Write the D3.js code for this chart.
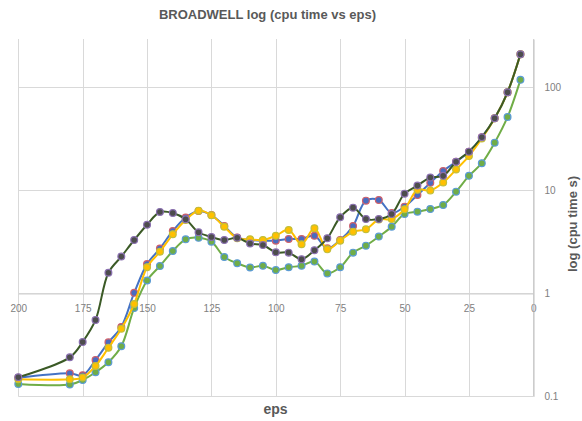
<!DOCTYPE html>
<html lang="en">
<head>
<meta charset="UTF-8">
<title>BROADWELL log (cpu time vs eps)</title>
<script src="https://cdn.jsdelivr.net/npm/d3@7/dist/d3.min.js"></script>
<style>
    body { margin: 0; background: #fff; }
    svg { display: block; font-family: "Liberation Sans", Arial, sans-serif; }
</style>
</head>
<body>
<svg width="582" height="421"></svg>
<script>
// eps values (x) and cpu time in seconds for the four runs
var eps = [200, 180, 175, 170, 165, 160, 155, 150, 145, 140, 135, 130, 125, 120, 115, 110, 105, 100,
           95, 90, 85, 80, 75, 70, 65, 60, 55, 50, 45, 40, 35, 30, 25, 20, 15, 10, 5];

var timeBlue = [0.151, 0.167, 0.160, 0.225, 0.334, 0.471, 1.01, 1.92, 2.72, 4.03, 5.44, 6.30, 5.75, 4.50,
                3.48, 3.29, 3.24, 3.24, 3.37, 3.37, 3.62, 2.73, 3.29, 4.50, 7.93, 8.05, 6.02, 6.93, 9.0,
                11.8, 15.4, 18.9, 23.7, 32.7, 50.0, 89.4, 209];
var timeYellow = [0.146, 0.146, 0.152, 0.197, 0.296, 0.453, 0.787, 1.79, 2.53, 3.74, 5.15, 6.34, 5.72, 4.43,
                  3.42, 3.35, 3.29, 3.62, 4.12, 2.99, 4.28, 2.67, 3.24, 3.96, 4.18, 5.21, 5.26, 6.54, 10.1,
                  9.96, 11.9, 15.9, 21.5, 31.8, 50.0, 89.4, 209];
var timeDark = [0.153, 0.239, 0.337, 0.551, 1.585, 2.27, 3.29, 4.63, 6.16, 6.02, 5.23, 3.91, 3.52, 3.29,
                3.46, 3.04, 2.94, 2.50, 2.48, 2.14, 2.62, 3.42, 5.47, 6.78, 5.26, 5.25, 5.89, 9.27, 11.1,
                13.3, 13.8, 18.9, 23.7, 32.7, 50.0, 89.4, 209];
var timeGreen = [0.132, 0.130, 0.144, 0.171, 0.214, 0.306, 0.72, 1.33, 1.84, 2.57, 3.34, 3.46, 3.17, 2.25,
                 1.96, 1.78, 1.85, 1.68, 1.79, 1.85, 2.03, 1.56, 1.79, 2.48, 2.90, 3.55, 4.43, 5.89, 6.20,
                 6.58, 7.20, 9.69, 13.8, 18.3, 29.0, 51.5, 118];

var xTicks = [200, 175, 150, 125, 100, 75, 50, 25, 0];
var yTicks = [0.1, 1, 10, 100];

var svg = d3.select('svg');

// eps runs from high to low, left to right; cpu time on a log axis at the right
var x = d3.scaleLinear().domain([200, 0]).range([18.3, 533.3]);
var y = d3.scaleLog().domain([0.1, 294]).range([396.3, 39]);

var grid = svg.append('g').attr('stroke', '#d9d9d9').attr('stroke-width', 1);
grid.selectAll('.vgrid')
    .data(xTicks)
    .enter()
    .append('line')
    .attr('x1', function(d) { return Math.round(x(d)) + 0.5; })
    .attr('x2', function(d) { return Math.round(x(d)) + 0.5; })
    .attr('y1', y.range()[1])
    .attr('y2', y.range()[0]);
grid.selectAll('.hgrid')
    .data(yTicks)
    .enter()
    .append('line')
    .attr('x1', x.range()[0])
    .attr('x2', x.range()[1])
    .attr('y1', function(d) { return Math.round(y(d)) + 0.5; })
    .attr('y2', function(d) { return Math.round(y(d)) + 0.5; });

// x axis crosses at cpu time = 1
var xAxis = d3.axisBottom(x).tickValues(xTicks).tickSize(0).tickPadding(11);
var gx = svg.append('g')
    .attr('transform', 'translate(0,' + (Math.round(y(1)) + 0.5) + ')')
    .call(xAxis);
gx.select('.domain').attr('stroke', '#d0d0d0');

var yAxis = d3.axisRight(y).tickValues(yTicks).tickSize(0).tickPadding(11)
    .tickFormat(function(d) { return d < 1 ? d3.format('.1f')(d) : d3.format('d')(d); });
var gy = svg.append('g')
    .attr('transform', 'translate(' + (Math.round(x(0)) + 0.5) + ',0)')
    .call(yAxis);
gy.select('.domain').attr('stroke', '#bfbfbf');

svg.selectAll('.tick text')
    .attr('font-family', '"Liberation Sans", Arial, sans-serif')
    .attr('font-size', 10)
    .attr('fill', '#808080');

// smoothed lines with round markers, drawn back to front
var series = [
    { values: timeGreen,  line: '#70ad47', fill: '#70ad47', edge: '#5b9bd5' },
    { values: timeBlue,   line: '#4472c4', fill: '#4a6cc0', edge: '#d0606a' },
    { values: timeYellow, line: '#ffc000', fill: '#ffc000', edge: '#c2bf3a' },
    { values: timeDark,   line: '#3b5a26', fill: '#4d4d4d', edge: '#8a70b0' }
];

var line = d3.line()
    .x(function(d) { return x(d[0]); })
    .y(function(d) { return y(d[1]); })
    .curve(d3.curveCatmullRom.alpha(0.5));

series.forEach(function(s) {
    var pts = eps.map(function(e, i) { return [e, s.values[i]]; });
    var g = svg.append('g');
    g.append('path')
        .attr('d', line(pts))
        .attr('fill', 'none')
        .attr('stroke', s.line)
        .attr('stroke-width', 2);
    g.selectAll('circle')
        .data(pts)
        .enter()
        .append('circle')
        .attr('cx', function(d) { return x(d[0]); })
        .attr('cy', function(d) { return y(d[1]); })
        .attr('r', 3.4)
        .attr('fill', s.fill)
        .attr('stroke', s.edge)
        .attr('stroke-width', 1.2);
});

// titles
svg.append('text')
    .attr('x', 267.5)
    .attr('y', 19)
    .attr('text-anchor', 'middle')
    .attr('font-size', 13)
    .attr('font-weight', 'bold')
    .attr('fill', '#595959')
    .text('BROADWELL log (cpu time vs eps)');

svg.append('text')
    .attr('x', 275.5)
    .attr('y', 414)
    .attr('text-anchor', 'middle')
    .attr('font-size', 14)
    .attr('font-weight', 'bold')
    .attr('fill', '#595959')
    .text('eps');

svg.append('text')
    .attr('transform', 'translate(577,224) rotate(-90)')
    .attr('text-anchor', 'middle')
    .attr('font-size', 13)
    .attr('font-weight', 'bold')
    .attr('fill', '#595959')
    .text('log (cpu time s)');
</script>
</body>
</html>
